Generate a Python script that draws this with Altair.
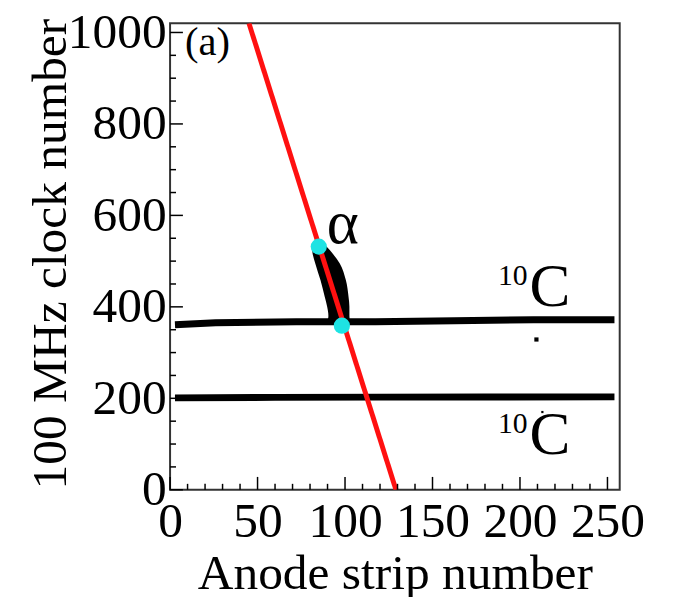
import altair as alt
import pandas as pd

FONT = "Liberation Serif"

# Upper 10C band (strip, clock)
band1_x = [2.8, 26.0, 72.2, 117.4, 162.5, 207.7, 254.0]
band1_y = [361.0, 365.3, 367.4, 367.4, 369.6, 371.8, 371.8]
# Lower 10C band
band2_x = [2.8, 60.0, 120.0, 180.0, 254.0]
band2_y = [201.0, 202.0, 202.5, 203.0, 203.2]
# Alpha track (clock, strip left edge, strip right edge)
track_y = [365, 380, 400, 422, 458, 495, 523, 540]
track_x1 = [89.5, 90.5, 89.8, 88.4, 86.0, 83.0, 81.3, 82.5]
track_x2 = [103.0, 102.5, 102.5, 102.0, 100.5, 97.0, 91.5, 87.5]
# Red fitted line
line_x = [45.1, 129.1]
line_y = [1020, 0]
# Cyan end points
pts_x = [85.0, 98.2]
pts_y = [531.7, 358.8]
# isolated hits
dot_x = [209.4, 212.8]
dot_y = [328.6, 170.0]
dot_s = [18, 5]

# Tick values
x_major = [0, 50, 100, 150, 200, 250]
x_minor = [v for v in range(10, 251, 10) if v % 50 != 0]
y_major = [0, 200, 400, 600, 800, 1000]
y_minor = [v for v in range(50, 1001, 50) if v % 200 != 0]

# Text annotations
lab_text = ["(a)", "\u03b1", "C", "10", "C", "10"]
lab_x = [8.5, 89.5, 205.5, 187.4, 205.5, 187.4]
lab_y = [951, 540.5, 402, 447, 77.8, 123.2]
lab_size = [41, 62, 62, 30, 62, 30]

XD = [0, 257]
YD = [0, 1020]
xs = alt.Scale(domain=XD, nice=False, zero=False)
ys = alt.Scale(domain=YD, nice=False, zero=False)

band1 = pd.DataFrame({"x": band1_x, "y": band1_y})
band2 = pd.DataFrame({"x": band2_x, "y": band2_y})
track = pd.DataFrame({"y": track_y, "x1": track_x1, "x2": track_x2})
line = pd.DataFrame({"x": line_x, "y": line_y})
pts = pd.DataFrame({"x": pts_x, "y": pts_y})
dots = pd.DataFrame({"x": dot_x, "y": dot_y, "s": dot_s})
labs = pd.DataFrame({"t": lab_text, "x": lab_x, "y": lab_y, "s": lab_size})

xaxis = alt.Axis(values=x_major, format="d", title="Anode strip number", ticks=False, domain=False, grid=False,
                 labelFont=FONT, labelFontSize=50, labelColor="black", labelPadding=7,
                 labelFlush=False, labelOverlap=False,
                 titleFont=FONT, titleFontSize=50, titleFontWeight="normal", titleColor="black",
                 titleBaseline="alphabetic", titleY=100, titleX=227.5, titleAlign="center")
yaxis = alt.Axis(values=y_major, format="d", title="100 MHz clock number", ticks=False, domain=False, grid=False,
                 labelFont=FONT, labelFontSize=50, labelColor="black", labelPadding=4,
                 labelFlush=False, labelOverlap=False, labelBaseline="middle",
                 titleFont=FONT, titleFontSize=50, titleFontWeight="normal", titleColor="black",
                 titleAngle=270, titleBaseline="alphabetic", titleAlign="center",
                 titleX=-106, titleY=233)

base_b1 = alt.Chart(band1).mark_line(color="black", strokeWidth=7, strokeCap="butt").encode(
    x=alt.X("x:Q", scale=xs, axis=xaxis), y=alt.Y("y:Q", scale=ys, axis=yaxis))
b2 = alt.Chart(band2).mark_line(color="black", strokeWidth=7, strokeCap="butt").encode(
    x=alt.X("x:Q", scale=xs), y=alt.Y("y:Q", scale=ys))
tr = alt.Chart(track).mark_area(color="black", orient="horizontal", interpolate="monotone").encode(
    y=alt.Y("y:Q", scale=ys), x=alt.X("x1:Q", scale=xs), x2="x2:Q")
rl = alt.Chart(line).mark_line(color="#ff1010", strokeWidth=5, clip=True).encode(
    x=alt.X("x:Q", scale=xs), y=alt.Y("y:Q", scale=ys))
cp = alt.Chart(pts).mark_circle(color="#1EE3E3", opacity=1, size=270).encode(
    x=alt.X("x:Q", scale=xs), y=alt.Y("y:Q", scale=ys))
dt = alt.Chart(dots).mark_square(color="black", opacity=1).encode(
    x=alt.X("x:Q", scale=xs), y=alt.Y("y:Q", scale=ys), size=alt.Size("s:Q", scale=None, legend=None))
tx = alt.Chart(labs).mark_text(font=FONT, color="black", align="left", baseline="alphabetic").encode(
    x=alt.X("x:Q", scale=xs), y=alt.Y("y:Q", scale=ys), text="t:N",
    size=alt.Size("s:Q", scale=None, legend=None))

H = 472
xmaj = alt.Chart(pd.DataFrame({"v": x_major})).mark_rule(color="black", strokeWidth=1.5).encode(
    x=alt.X("v:Q", scale=xs), y=alt.value(H), y2=alt.value(H - 13))
xmin = alt.Chart(pd.DataFrame({"v": x_minor})).mark_rule(color="black", strokeWidth=1.5).encode(
    x=alt.X("v:Q", scale=xs), y=alt.value(H), y2=alt.value(H - 6))
ymaj = alt.Chart(pd.DataFrame({"v": y_major})).mark_rule(color="black", strokeWidth=1.5).encode(
    y=alt.Y("v:Q", scale=ys), x=alt.value(0), x2=alt.value(13))
ymin = alt.Chart(pd.DataFrame({"v": y_minor})).mark_rule(color="black", strokeWidth=1.5).encode(
    y=alt.Y("v:Q", scale=ys), x=alt.value(0), x2=alt.value(6))

chart = alt.layer(base_b1, b2, tr, rl, cp, dt, tx, xmaj, xmin, ymaj, ymin).properties(
    width=455, height=H,
    autosize=alt.AutoSizeParams(type="none"),
    padding={"left": 164, "top": 12, "right": 60, "bottom": 105},
).configure_view(stroke="#333333", strokeWidth=2)

chart.save("out.html", embed_options={"renderer": "svg", "actions": False})
